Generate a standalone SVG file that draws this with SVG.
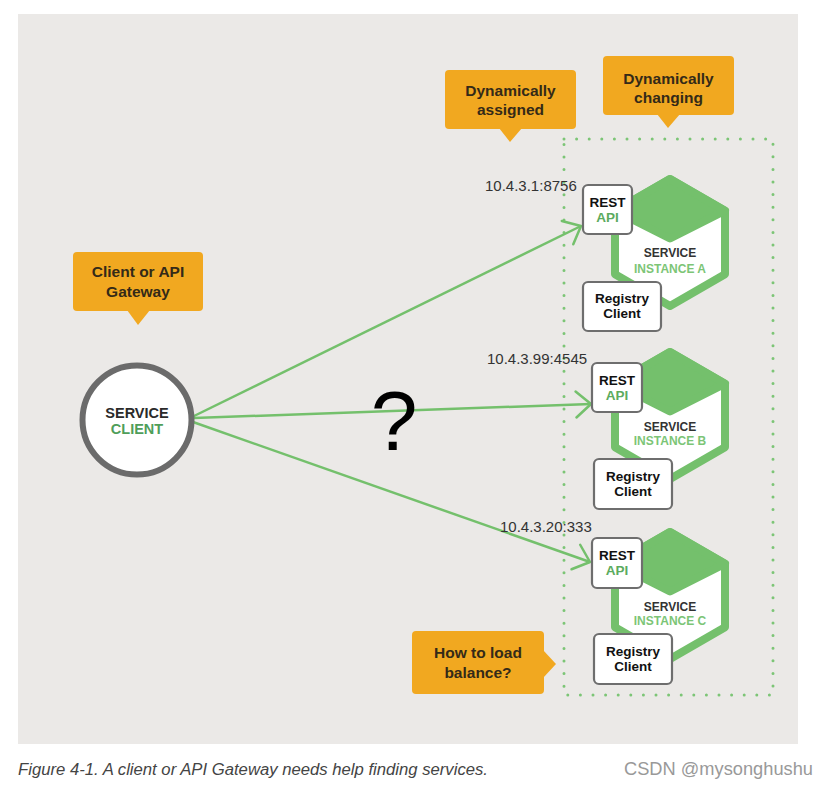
<svg xmlns="http://www.w3.org/2000/svg" width="829" height="788" viewBox="0 0 829 788">
<style>
.callout{fill:#f1a820}
.ct{font-family:"Liberation Sans",Arial,sans-serif;font-weight:bold;font-size:15.5px;fill:#342a18;text-anchor:middle}
.hex{fill:#fff;stroke:#74c06c;stroke-width:8;stroke-linejoin:round}
.top{fill:#74c06c;stroke:#74c06c;stroke-width:8;stroke-linejoin:round}
.box{fill:#fff;stroke:#6e6e6e;stroke-width:2.2}
.bt{font-family:"Liberation Sans",Arial,sans-serif;font-weight:bold;font-size:13.5px;fill:#111;text-anchor:middle}
.g{fill:#5bab5e}
.ht{font-family:"Liberation Sans",Arial,sans-serif;font-weight:bold;font-size:12px;fill:#333;text-anchor:middle}
.hg{fill:#7cc576}
.ip{font-family:"Liberation Sans",Arial,sans-serif;font-size:15px;fill:#333}
.conn{fill:none;stroke:#74c06c;stroke-width:2.5}
</style>
<defs>
<marker id="arr" markerUnits="userSpaceOnUse" viewBox="-18 -16 21 32" refX="0" refY="0" markerWidth="21" markerHeight="32" orient="auto">
<path d="M-15,-13 L0,0 L-15,13" fill="none" stroke="#74c06c" stroke-width="2.5" stroke-linecap="round" stroke-linejoin="round"/>
</marker>
<g id="hexshape">
<path class="hex" d="M0,-63.5 L55,-31.75 L55,31.75 L0,63.5 L-55,31.75 L-55,-31.75 Z"/>
<path class="top" d="M0,-63.5 L55,-31.75 L0,-4 L-55,-31.75 Z"/>
</g>
</defs>
<rect x="0" y="0" width="829" height="788" fill="#fff"/>
<rect x="18" y="14" width="780" height="730" fill="#ebe9e7"/>

<rect id="group-box" x="564" y="139" width="209" height="556" fill="none" stroke="#7cc576" stroke-width="3" stroke-linecap="round" stroke-dasharray="0 12.6"/>

<g id="connectors">
<line class="conn" x1="192" y1="417" x2="581" y2="226" marker-end="url(#arr)"/>
<line class="conn" x1="194" y1="418" x2="591" y2="404" marker-end="url(#arr)"/>
<line class="conn" x1="193" y1="422" x2="590" y2="562" marker-end="url(#arr)"/>
</g>

<text x="394" y="450" font-family="Liberation Sans,Arial,sans-serif" font-size="84" text-anchor="middle" fill="#000">?</text>

<g id="callout-dyn-assigned">
<rect class="callout" x="445" y="70" width="131" height="59" rx="4"/>
<path class="callout" d="M499,128 L510,142 L522,128 Z"/>
<text class="ct" x="510.5" y="96">Dynamically</text>
<text class="ct" x="510.5" y="115">assigned</text>
</g>
<g id="callout-dyn-changing">
<rect class="callout" x="603" y="56" width="131" height="59" rx="4"/>
<path class="callout" d="M657,114 L668,128 L680,114 Z"/>
<text class="ct" x="668.5" y="84">Dynamically</text>
<text class="ct" x="668.5" y="103">changing</text>
</g>
<g id="callout-client">
<rect class="callout" x="73" y="252" width="130" height="59" rx="4"/>
<path class="callout" d="M127,310 L138,325 L150,310 Z"/>
<text class="ct" x="138" y="277">Client or API</text>
<text class="ct" x="138" y="297">Gateway</text>
</g>
<g id="callout-lb">
<rect class="callout" x="412" y="631" width="132" height="63" rx="4"/>
<path class="callout" d="M543,650 L556,664 L543,678 Z"/>
<text class="ct" x="478" y="658">How to load</text>
<text class="ct" x="478" y="678">balance?</text>
</g>

<g id="service-client">
<circle cx="137" cy="420" r="54.5" fill="#fff" stroke="#6b6b6b" stroke-width="6"/>
<text x="137" y="418" font-family="Liberation Sans,Arial,sans-serif" font-weight="bold" font-size="14.5px" fill="#2a2a2a" text-anchor="middle">SERVICE</text>
<text x="137" y="434" font-family="Liberation Sans,Arial,sans-serif" font-weight="bold" font-size="14.5px" fill="#4f9e5a" text-anchor="middle">CLIENT</text>
</g>

<g id="instance-a">
<use href="#hexshape" transform="translate(670,242.5)"/>
<text class="ht" x="670" y="257">SERVICE</text>
<text class="ht hg" x="670" y="273">INSTANCE A</text>
<text class="ip" x="485" y="191">10.4.3.1:8756</text>
<rect class="box" x="583" y="185" width="49" height="49" rx="5"/>
<text class="bt" x="607.5" y="206.5">REST</text>
<text class="bt g" x="607.5" y="222">API</text>
<rect class="box" x="583" y="282" width="78" height="49" rx="5"/>
<text class="bt" x="622" y="303">Registry</text>
<text class="bt" x="622" y="318">Client</text>
</g>

<g id="instance-b">
<use href="#hexshape" transform="translate(670,415.5)"/>
<text class="ht" x="670" y="431">SERVICE</text>
<text class="ht hg" x="670" y="445">INSTANCE B</text>
<text class="ip" x="487" y="364">10.4.3.99:4545</text>
<rect class="box" x="592" y="363" width="50" height="49" rx="5"/>
<text class="bt" x="617" y="384.5">REST</text>
<text class="bt g" x="617" y="400">API</text>
<rect class="box" x="594" y="459" width="78" height="50" rx="5"/>
<text class="bt" x="633" y="480.5">Registry</text>
<text class="bt" x="633" y="496">Client</text>
</g>

<g id="instance-c">
<use href="#hexshape" transform="translate(670,595.5)"/>
<text class="ht" x="670" y="611">SERVICE</text>
<text class="ht hg" x="670" y="625">INSTANCE C</text>
<text class="ip" x="500" y="532">10.4.3.20:333</text>
<rect class="box" x="592" y="538" width="50" height="50" rx="5"/>
<text class="bt" x="617" y="559.5">REST</text>
<text class="bt g" x="617" y="575">API</text>
<rect class="box" x="594" y="634" width="78" height="50" rx="5"/>
<text class="bt" x="633" y="655.5">Registry</text>
<text class="bt" x="633" y="671">Client</text>
</g>

<text x="18" y="775" font-family="Liberation Sans,Arial,sans-serif" font-style="italic" font-size="16px" fill="#444" textLength="470" lengthAdjust="spacingAndGlyphs">Figure 4-1. A client or API Gateway needs help finding services.</text>
<text x="624" y="775" font-family="Liberation Sans,Arial,sans-serif" font-size="17.5px" fill="#999" textLength="189" lengthAdjust="spacingAndGlyphs">CSDN @mysonghushu</text>
</svg>
